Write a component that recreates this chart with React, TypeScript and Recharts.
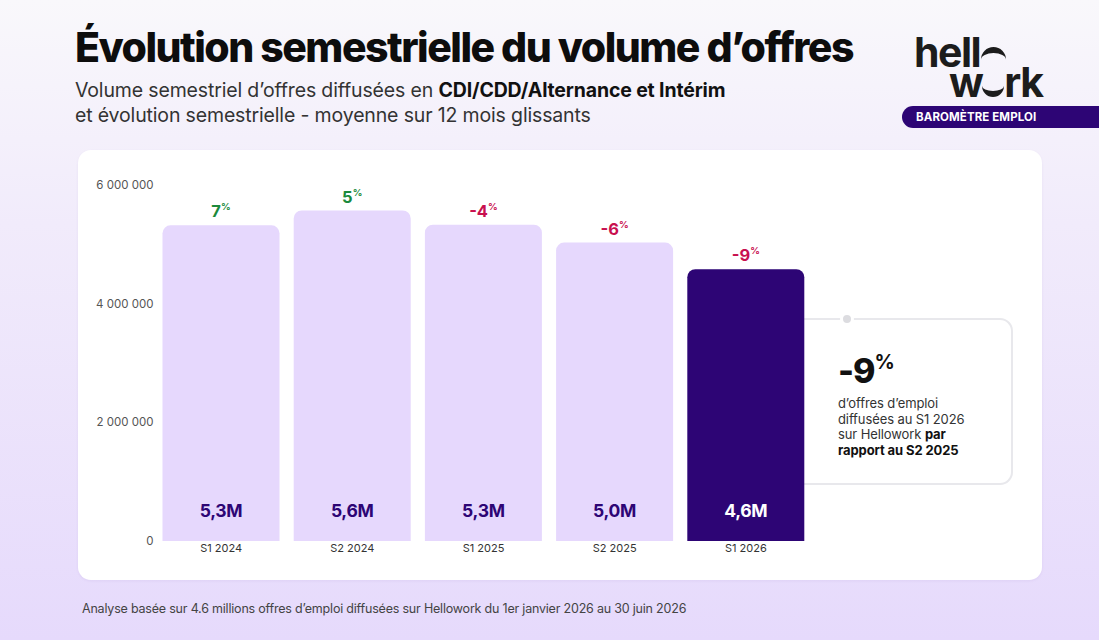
import React from 'react'
import { Bar, BarChart, Cell, LabelList, XAxis, YAxis } from 'recharts'

const categories = ['S1 2024', 'S2 2024', 'S1 2025', 'S2 2025', 'S1 2026']
const volumes = [5320000, 5570000, 5330000, 5030000, 4580000]
const volumeLabels = ['5,3M', '5,6M', '5,3M', '5,0M', '4,6M']
const evolutions = [7, 5, -4, -6, -9]
const yTicks = [0, 2000000, 4000000, 6000000]

const LIGHT = '#e6d8fd'
const DARK = '#2d0575'
const GREEN = '#1b8a3c'
const RED = '#c8104f'
const FONT = 'Inter, "Noto Sans", sans-serif'

const formatTick = (v: number) => String(v).replace(/\B(?=(\d{3})+(?!\d))/g, ' ')

const PercentLabel = (props: any) => {
    const { x, y, width, index } = props
    const v = evolutions[index]
    return (
        <text x={x + width / 2} y={y - 8} textAnchor="middle" fontFamily={FONT} fontWeight={700}
              fontSize={16.5} fill={v >= 0 ? GREEN : RED}>
            {v}
            <tspan fontSize={9.5} dy={-7}>%</tspan>
        </text>
    )
}

const VolumeLabel = (props: any) => {
    const { x, y, width, height, index } = props
    const last = index === categories.length - 1
    return (
        <text x={x + width / 2} y={y + height - 31} textAnchor="middle" dominantBaseline="central"
              fontFamily={FONT} fontWeight={700} fontSize={17.5} letterSpacing={-0.3}
              fill={last ? '#ffffff' : DARK}>
            {volumeLabels[index]}
        </text>
    )
}

const logoLine: React.CSSProperties = {
    position: 'absolute', fontSize: 41, fontWeight: 700, color: '#1c1c1c', lineHeight: '28px',
    height: 28, letterSpacing: -1.5, whiteSpace: 'nowrap'
}

const App: React.FC = () => {
    const data = categories.map((c, i) => ({ name: c, volume: volumes[i] }))
    return (
        <div style={{
            position: 'absolute', left: 0, top: 0, width: 1099, height: 640, overflow: 'hidden',
            background: 'linear-gradient(180deg, #f9f8fb 0%, #f1ebfb 35%, #e6dafc 100%)', fontFamily: FONT
        }}>
            <div style={{ position: 'absolute', left: 75, top: 21, fontSize: 41, fontWeight: 800,
                letterSpacing: -1.5, color: '#0d0d0d', whiteSpace: 'nowrap', lineHeight: '52px' }}>
                Évolution semestrielle du volume d’offres
            </div>
            <div style={{ position: 'absolute', left: 75, top: 78, fontSize: 19.5, color: '#333',
                lineHeight: '25px', whiteSpace: 'nowrap', letterSpacing: -0.15 }}>
                Volume semestriel d’offres diffusées en <b style={{ color: '#111' }}>CDI/CDD/Alternance et Intérim</b>
                <br />et évolution semestrielle - moyenne sur 12 mois glissants
            </div>

            {/* logo */}
            <div style={{ ...logoLine, left: 914, top: 38 }}>
                hell<span style={{ display: 'inline-block', width: 25, height: 14, borderTop: '6px solid #1c1c1c',
                    borderRadius: '14px 14px 0 0', marginLeft: 1 }} />
            </div>
            <div style={{ ...logoLine, left: 949, top: 68 }}>
                w<span style={{ display: 'inline-block', width: 22, height: 12,
                    borderBottom: '6px solid #1c1c1c', borderRadius: '0 0 14px 14px' }} />rk
            </div>
            <div style={{ position: 'absolute', left: 902, top: 106, width: 210, height: 22, background: DARK,
                borderRadius: '11px 0 0 11px', color: '#fff', fontSize: 11.5, fontWeight: 700, lineHeight: '22px',
                paddingLeft: 14, boxSizing: 'border-box', letterSpacing: 0.1 }}>
                BAROMÈTRE EMPLOI
            </div>

            {/* card */}
            <div style={{ position: 'absolute', left: 78, top: 150, width: 964, height: 430, background: '#fff',
                borderRadius: 13, boxShadow: '0 1px 3px rgba(80,40,140,0.06)' }} />

            {/* callout */}
            <div style={{ position: 'absolute', left: 780, top: 318, width: 233, height: 167,
                border: '2px solid #e8e8ec', borderRadius: 13, boxSizing: 'border-box' }} />
            <div style={{ position: 'absolute', left: 840, top: 312, width: 8, height: 8, borderRadius: '50%',
                background: '#dcdce0', border: '3px solid #fff' }} />
            <div style={{ position: 'absolute', left: 838, top: 342, fontSize: 34, fontWeight: 800,
                color: '#111', letterSpacing: -1, lineHeight: '40px' }}>
                -9<span style={{ fontSize: 20, verticalAlign: 14, fontWeight: 700 }}>%</span>
            </div>
            <div style={{ position: 'absolute', left: 838, top: 396, fontSize: 13, color: '#333',
                lineHeight: '15.5px', letterSpacing: -0.1 }}>
                d’offres d’emploi<br />diffusées au S1 2026<br />sur Hellowork <b style={{ color: '#111' }}>par</b>
                <br /><b style={{ color: '#111' }}>rapport au S2 2025</b>
            </div>

            <div style={{ position: 'absolute', left: 78, top: 150 }}>
                <BarChart width={964} height={430} data={data}
                          margin={{ top: 35, right: 230.5, bottom: 0, left: 0 }} barCategoryGap={7}>
                    <XAxis dataKey="name" axisLine={false} tickLine={false} tickSize={0} tickMargin={3} height={39}
                           tick={{ fontSize: 11, fill: '#333', fontFamily: FONT }} />
                    <YAxis domain={[0, 6000000]} ticks={yTicks} axisLine={false} tickLine={false} tickSize={0}
                           tickMargin={2} width={77.5} tickFormatter={formatTick}
                           tick={{ fontSize: 11.5, fill: '#555', fontFamily: FONT }} />
                    <Bar dataKey="volume" radius={[8, 8, 0, 0]} isAnimationActive={false}>
                        {data.map((_, i) => (
                            <Cell key={i} fill={i === data.length - 1 ? DARK : LIGHT} />
                        ))}
                        <LabelList dataKey="volume" content={PercentLabel} />
                        <LabelList dataKey="volume" content={VolumeLabel} />
                    </Bar>
                </BarChart>
            </div>

            <div style={{ position: 'absolute', left: 82, top: 601, fontSize: 12.5, color: '#444',
                letterSpacing: -0.2, whiteSpace: 'nowrap' }}>
                Analyse basée sur 4.6 millions offres d’emploi diffusées sur Hellowork du 1er janvier 2026 au 30 juin 2026
            </div>
        </div>
    )
}

export default App
